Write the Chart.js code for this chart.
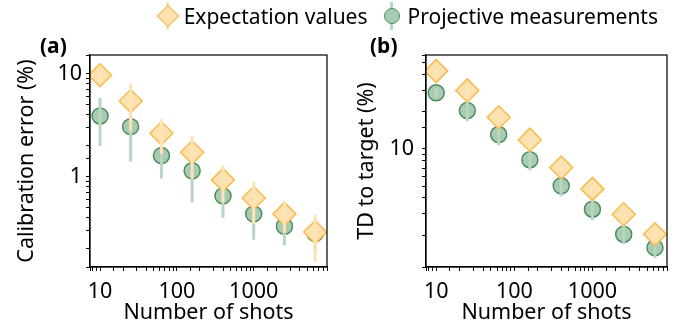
<!DOCTYPE html>
<html>
<head>
<meta charset="utf-8">
<script src="https://cdn.jsdelivr.net/npm/chart.js@4"></script>
<style>
  body { margin: 0; background: #fff; }
  #wrap { position: relative; width: 680px; height: 329px; font-family: 'Noto Sans', sans-serif; }
  canvas { position: absolute; top: 0; }
  #chartA { left: 0; }
  #chartB { left: 340px; }
  .panel-label { position: absolute; top: 31px; font-weight: bold; font-size: 21px; }
  #legend { position: absolute; top: 1px; right: 22px; display: flex; align-items: center; font-size: 21px; height: 30px; white-space: nowrap; }
  .item { display: flex; align-items: center; margin-left: 12px; }
  .mk { position: relative; width: 24px; height: 28px; margin-right: 4px; }
  .mk .bar { position: absolute; left: 10.5px; top: 0; width: 3px; height: 28px; }
  .mk .dia { position: absolute; left: 4px; top: 6px; width: 14px; height: 14px; transform: rotate(45deg); background: #fde2b1; border: 1.5px solid #f8bb4c; }
  .mk .dot { position: absolute; left: 4px; top: 5.5px; width: 14px; height: 14px; border-radius: 50%; background: #a8ccb1; border: 1.5px solid #4e8b5c; }
</style>
</head>
<body>
<div id="wrap">
  <canvas id="chartA" width="340" height="329"></canvas>
  <canvas id="chartB" width="340" height="329"></canvas>
  <div class="panel-label" style="left:40px">(a)</div>
  <div class="panel-label" style="left:370px">(b)</div>
  <div id="legend">
    <div class="item"><div class="mk"><div class="bar" style="background:#fde3b5"></div><div class="dia"></div></div>Expectation values</div>
    <div class="item"><div class="mk"><div class="bar" style="background:#b9d6c1"></div><div class="dot"></div></div>Projective measurements</div>
  </div>
</div>
<script>
// Datos
const shots = [10, 25, 63, 158, 398, 1000, 2512, 6310];

// (a) error de calibración (%)
const calExp = [9.6, 5.4, 2.63, 1.72, 0.93, 0.62, 0.435, 0.29];
const calExpErr = [1.5, 2.6, 0.97, 0.76, 0.37, 0.27, 0.15, 0.14];
const calProj = [3.87, 3.05, 1.6, 1.14, 0.65, 0.435, 0.33, 0.28];
const calProjErr = [1.9, 1.65, 0.64, 0.58, 0.25, 0.19, 0.115, 0.098];

// (b) TD al objetivo (%)
const tdExp = [42.9, 29.9, 18.1, 11.9, 7.08, 4.74, 2.95, 2.03];
const tdExpErr = [2.0, 1.5, 1.0, 0.7, 0.4, 0.3, 0.2, 0.15];
const tdProj = [28.6, 20.5, 13.1, 8.18, 5.02, 3.24, 2.03, 1.58];
const tdProjErr = [2.5, 3.7, 2.4, 1.5, 0.9, 0.6, 0.35, 0.28];

const xLabels = [10, 100, 1000];
const yLabelsA = [1, 10];
const yLabelsB = [10];

const ORANGE_FILL = '#fde2b1';
const ORANGE_EDGE = '#f8bb4c';
const ORANGE_BAR = '#fde3b5';
const GREEN_FILL = '#a8ccb1';
const GREEN_EDGE = '#4e8b5c';
const GREEN_BAR = '#b9d6c1';

Chart.defaults.font.family = "'Noto Sans', sans-serif";
Chart.defaults.font.size = 21.5;
Chart.defaults.color = '#000';

// barras de error como segmentos con huecos
function errorSegments(vals, errs) {
    const pts = [];
    for (let i = 0; i < shots.length; i++) {
        pts.push({x: shots[i], y: vals[i] - errs[i]});
        pts.push({x: shots[i], y: vals[i] + errs[i]});
        pts.push({x: shots[i], y: null});
    }
    return pts;
}

function points(vals) {
    return shots.map((s, i) => ({x: s, y: vals[i]}));
}

// marco completo alrededor del área
const framePlugin = {
    id: 'frame',
    afterDraw(chart) {
        const a = chart.chartArea;
        const ctx = chart.ctx;
        ctx.save();
        ctx.strokeStyle = '#000';
        ctx.lineWidth = 1.2;
        ctx.strokeRect(a.left, a.top, a.right - a.left, a.bottom - a.top);
        ctx.restore();
    }
};

function crearPanel(id, expVals, expErr, projVals, projErr, yMin, yMax, yTitle, yLabels, yWidth, rightPad, yTickPad) {
    const ctx = document.getElementById(id);
    return new Chart(ctx, {
        type: 'line',
        data: {
            datasets: [
                {
                    data: errorSegments(expVals, expErr),
                    borderColor: ORANGE_BAR,
                    borderWidth: 3,
                    pointRadius: 0,
                    spanGaps: false
                },
                {
                    data: points(expVals),
                    showLine: false,
                    pointStyle: 'rectRot',
                    pointRadius: 11.5,
                    pointBackgroundColor: ORANGE_FILL,
                    pointBorderColor: ORANGE_EDGE,
                    pointBorderWidth: 1.5
                },
                {
                    data: errorSegments(projVals, projErr),
                    borderColor: GREEN_BAR,
                    borderWidth: 3,
                    pointRadius: 0,
                    spanGaps: false
                },
                {
                    data: points(projVals),
                    showLine: false,
                    pointStyle: 'circle',
                    pointRadius: 8,
                    pointBackgroundColor: GREEN_FILL,
                    pointBorderColor: GREEN_EDGE,
                    pointBorderWidth: 1.5
                }
            ]
        },
        options: {
            responsive: false,
            animation: false,
            layout: { padding: { top: 55, right: rightPad, left: 0, bottom: 0 } },
            plugins: { legend: { display: false }, tooltip: { enabled: false } },
            scales: {
                x: {
                    type: 'logarithmic',
                    min: 7.4,
                    max: 9000,
                    afterFit: function(scale) { scale.height = 62; },
                    grid: { drawOnChartArea: false, drawTicks: true, tickLength: 4, color: '#000' },
                    border: { display: true, color: '#000', width: 1.2 },
                    ticks: {
                        autoSkip: false,
                        maxRotation: 0,
                        padding: 8,
                        callback: function(v) { return xLabels.includes(v) ? String(v) : ''; }
                    },
                    title: { display: true, text: 'Number of shots', padding: { top: 0, bottom: 3 } }
                },
                y: {
                    type: 'logarithmic',
                    min: yMin,
                    max: yMax,
                    afterFit: function(scale) { scale.width = yWidth; },
                    grid: { drawOnChartArea: false, drawTicks: true, tickLength: 4, color: '#000' },
                    border: { display: true, color: '#000', width: 1.2 },
                    ticks: {
                        autoSkip: false,
                        padding: yTickPad,
                        callback: function(v) { return yLabels.includes(v) ? String(v) : ''; }
                    },
                    title: { display: true, text: yTitle, padding: { top: 14, bottom: 0 } }
                }
            }
        },
        plugins: [framePlugin]
    });
}

crearPanel('chartA', calExp, calExpErr, calProj, calProjErr, 0.133, 15.1, 'Calibration error (%)', yLabelsA, 90, 5, 4);
crearPanel('chartB', tdExp, tdExpErr, tdProj, tdProjErr, 1.1, 58, 'TD to target (%)', yLabelsB, 86, 9, 8);
</script>
</body>
</html>
